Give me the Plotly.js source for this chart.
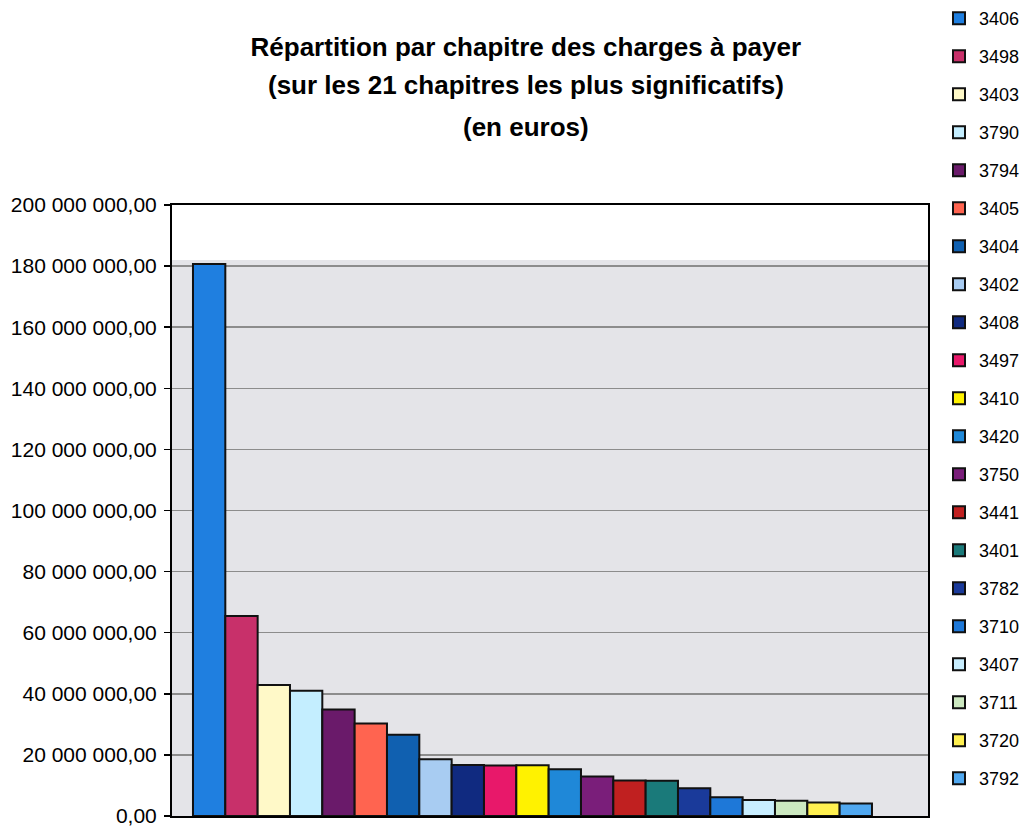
<!DOCTYPE html>
<html>
<head>
<meta charset="utf-8">
<script src="https://cdn.plot.ly/plotly-3.0.1.min.js"></script>
<style>html,body{margin:0;padding:0;background:#fff;}#chart{width:1027px;height:826px;}</style>
</head>
<body>
<div id="chart"></div>
<script>
const titleLines = [
  "Répartition par chapitre des charges à payer",
  "(sur les 21 chapitres les plus significatifs)",
  "(en euros)"
];
const chapters = ["3406","3498","3403","3790","3794","3405","3404","3402","3408","3497","3410",
                  "3420","3750","3441","3401","3782","3710","3407","3711","3720","3792"];
const amounts = [180700000, 65500000, 42900000, 41000000, 34900000, 30300000, 26600000, 18600000,
                 16700000, 16500000, 16600000, 15300000, 12900000, 11600000, 11500000, 9100000,
                 6100000, 5200000, 5000000, 4400000, 4100000];
const colors = ["#1f7fe0","#c8306a","#fff9c8","#c4eeff","#6a1a6a","#ff6450","#1060b0","#a8ccf2",
                "#102a80","#e8186a","#fff200","#1f88d8","#7a1e7a","#c02020","#1a7a7a","#1a3a9a",
                "#1e78d8","#c8eeff","#cce8c0","#fff050","#50a8f0"];
const category = ["chapitres"];

const traces = chapters.map((c, i) => ({
  type: "bar",
  name: c,
  x: category,
  y: [amounts[i]],
  legendgroup: c,
  marker: {color: colors[i], line: {color: "#111", width: 2}},
  hoverinfo: "name+y"
}));

const font = "Liberation Sans, Arial, sans-serif";
const tfont = {size: 26, family: font, color: "#000"};
const layout = {
  width: 1027, height: 826,
  paper_bgcolor: "#fff", plot_bgcolor: "#fff",
  margin: {l: 172, r: 99, t: 205, b: 10},
  separators: ", ",
  font: {family: font, color: "#000"},
  title: {text: "<b>" + titleLines[0] + "</b>", font: tfont,
          x: 0.468, xanchor: "center", y: 1 - 47 / 826, yanchor: "middle", xref: "paper", yref: "container"},
  annotations: [
    {text: "<b>" + titleLines[1] + "</b>", xref: "paper", yref: "paper", x: 0.468, y: 1.0 + (205 - 85) / 611,
     showarrow: false, font: tfont, xanchor: "center", yanchor: "middle"},
    {text: "<b>" + titleLines[2] + "</b>", xref: "paper", yref: "paper", x: 0.468, y: 1.0 + (205 - 127) / 611,
     showarrow: false, font: tfont, xanchor: "center", yanchor: "middle"}
  ],
  barmode: "group", bargap: 0, bargroupgap: 0,
  xaxis: {type: "category", range: [-0.5309, 0.5825], showticklabels: false, ticks: "",
          showgrid: false, zeroline: false, showline: true, linecolor: "#000", linewidth: 2, mirror: true},
  yaxis: {range: [0, 200000000], tickvals: [0,20e6,40e6,60e6,80e6,100e6,120e6,140e6,160e6,180e6,200e6],
          tickformat: ",.2f", tickfont: {size: 21, family: font, color: "#000"}, ticklabeloverflow: "allow",
          ticks: "outside", ticklen: 6, tickcolor: "#000", tickwidth: 1.5, ticklabelstandoff: 3,
          showgrid: true, gridcolor: "#8c8c8c", gridwidth: 1.5, zeroline: false,
          showline: true, linecolor: "#000", linewidth: 2, mirror: true},
  shapes: [{type: "rect", xref: "paper", yref: "y", x0: 0, x1: 1, y0: 0, y1: 182000000,
            fillcolor: "#e4e4e8", line: {width: 0}, layer: "below"}],
  showlegend: true,
  legend: {x: 939 / 1027, xref: "container", xanchor: "left", y: 1 - (-3) / 826, yref: "container", yanchor: "top",
           maxheight: 1,
           traceorder: "grouped", tracegroupgap: 11.6, font: {size: 18, family: font, color: "#000"},
           bgcolor: "rgba(0,0,0,0)", borderwidth: 0, itemwidth: 30}
};

Plotly.newPlot("chart", traces, layout, {displayModeBar: false, staticPlot: true});
</script>
</body>
</html>
